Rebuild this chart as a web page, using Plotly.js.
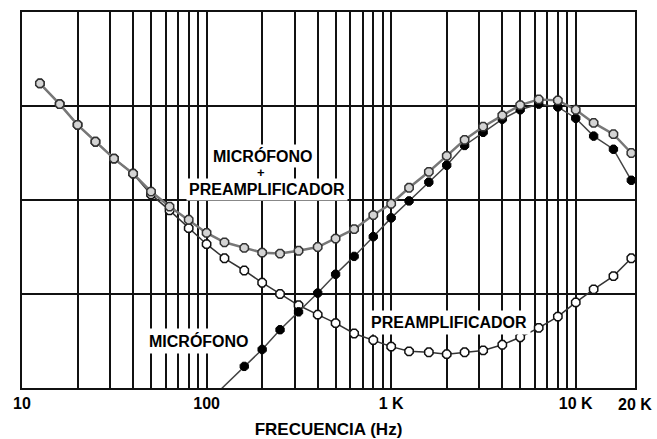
<!DOCTYPE html>
<html><head><meta charset="utf-8">
<script src="https://cdn.plot.ly/plotly-3.0.1.min.js"></script>
<style>html,body{margin:0;padding:0;background:#fff;}#chart{width:657px;height:439px;}</style>
</head><body><div id="chart"></div>
<script>
// 1/3-octave frequencies (Hz)
const freqs = [12.5,16,20,25,31.5,40,50,63,80,100,125,160,200,250,315,400,500,630,800,1000,1250,1600,2000,2500,3150,4000,5000,6300,8000,10000,12500,16000,20000];
// MICRÓFONO + PREAMPLIFICADOR (relative level, 10 units per grid division)
const micPreamp = [32.4,30.2,28.0,26.2,24.4,22.8,20.9,19.3,17.9,16.5,15.5,14.9,14.4,14.3,14.6,15.0,15.9,16.9,18.4,19.6,21.3,23.0,24.7,26.4,27.8,29.0,30.1,30.7,30.6,29.6,28.2,27.0,25.0];
// PREAMPLIFICADOR
const preamp = [32.4,30.2,28.0,26.2,24.4,22.8,20.6,18.9,17.0,15.3,13.8,12.5,11.2,10.0,8.8,7.8,6.9,5.8,5.1,4.4,3.9,3.8,3.6,3.8,4.0,4.6,5.4,6.4,7.6,9.1,10.5,11.9,13.8];
// MICRÓFONO
const micFreqs = [100,160,200,250,315,400,500,630,800,1000,1250,1600,2000,2500,3150,4000,5000,6300,8000,10000,12500,16000,20000];
const mic = [-1.6,2.3,4.1,6.2,8.1,10.1,12.1,14.0,16.1,18.1,19.9,21.9,23.7,25.8,27.2,28.6,29.6,30.2,29.9,28.7,26.8,25.4,22.1];
// grid / tick positions and labels
const gridTicks = [10,20,30,40,50,60,70,80,90,100,200,300,400,500,600,700,800,900,1000,2000,3000,4000,5000,6000,7000,8000,9000,10000];
const labeledTicks = [10,100,1000,10000];
const labeledText = ['10','100','1 K','10 K'];
const edgeLabel = '20 K';
const xTitle = 'FRECUENCIA (Hz)';
const labelMicPre = ['MICRÓFONO','+','PREAMPLIFICADOR'];
const labelMic = 'MICRÓFONO';
const labelPre = 'PREAMPLIFICADOR';

const tickText = gridTicks.map(v => { const i = labeledTicks.indexOf(v); return i >= 0 ? labeledText[i] : ''; });
const FONT = 'Liberation Sans, Arial, Helvetica, sans-serif';

const traces = [
  {x: freqs, y: preamp, type: 'scatter', mode: 'lines+markers', name: labelPre,
   line: {color: '#333', width: 1.5},
   marker: {symbol: 'octagon', size: 9, color: '#ffffff', line: {color: '#111', width: 1.5}}},
  {x: micFreqs, y: mic, type: 'scatter', mode: 'lines+markers', name: labelMic,
   line: {color: '#444', width: 1.5},
   marker: {symbol: 'octagon', size: 9, color: '#000', line: {color: '#000', width: 1}}},
  {x: freqs, y: micPreamp, type: 'scatter', mode: 'lines+markers', name: labelMicPre.join(' '),
   line: {color: '#777', width: 2.5},
   marker: {symbol: 'octagon', size: 9, color: '#d4d4d4', line: {color: '#333', width: 1.5}}}
];

const lblFont = {family: FONT, size: 16, color: '#000', weight: 700};
function ann(text, x, y, extra) {
  return Object.assign({text: text, x: x, y: y, xref: 'x', yref: 'y', showarrow: false,
    font: lblFont, bgcolor: '#fff', borderpad: 3, xanchor: 'center', yanchor: 'middle'}, extra || {});
}

const layout = {
  width: 657, height: 439,
  margin: {l: 22, r: 22, t: 12, b: 51},
  paper_bgcolor: '#fff', plot_bgcolor: '#fff',
  showlegend: false,
  xaxis: {
    type: 'log', range: [1, 4.321],
    tickmode: 'array', tickvals: gridTicks, ticktext: tickText,
    ticks: '', showgrid: true, gridcolor: '#111', gridwidth: 2,
    showline: true, mirror: true, linecolor: '#111', linewidth: 2,
    zeroline: false,
    tickfont: {family: FONT, size: 16, color: '#000', weight: 700},
    title: {text: xTitle, font: {family: FONT, size: 17, color: '#000', weight: 700}, standoff: 15},
    automargin: false, fixedrange: true
  },
  yaxis: {
    range: [0, 40], tickmode: 'linear', tick0: 0, dtick: 10,
    showticklabels: false, ticks: '',
    showgrid: true, gridcolor: '#111', gridwidth: 2,
    showline: true, mirror: true, linecolor: '#111', linewidth: 2,
    zeroline: false, automargin: false, fixedrange: true
  },
  annotations: [
    ann(labelMicPre[0], 2.307, 24.7, {borderpad: 2}),
    ann(labelMicPre[1], 2.295, 22.9, {borderpad: 1, font: {family: FONT, size: 13, color: '#000', weight: 700}}),
    ann(labelMicPre[2], 2.327, 21.1, {borderpad: 2}),
    ann(labelMic, 1.959, 5.05),
    ann(labelPre, 3.313, 7.0),
    {text: edgeLabel, xref: 'paper', yref: 'paper', x: 1, y: -0.043, showarrow: false,
     xanchor: 'center', yanchor: 'middle', font: {family: FONT, size: 16, color: '#000', weight: 700}}
  ]
};

Plotly.newPlot('chart', traces, layout, {staticPlot: true, displayModeBar: false});
</script>
</body></html>
